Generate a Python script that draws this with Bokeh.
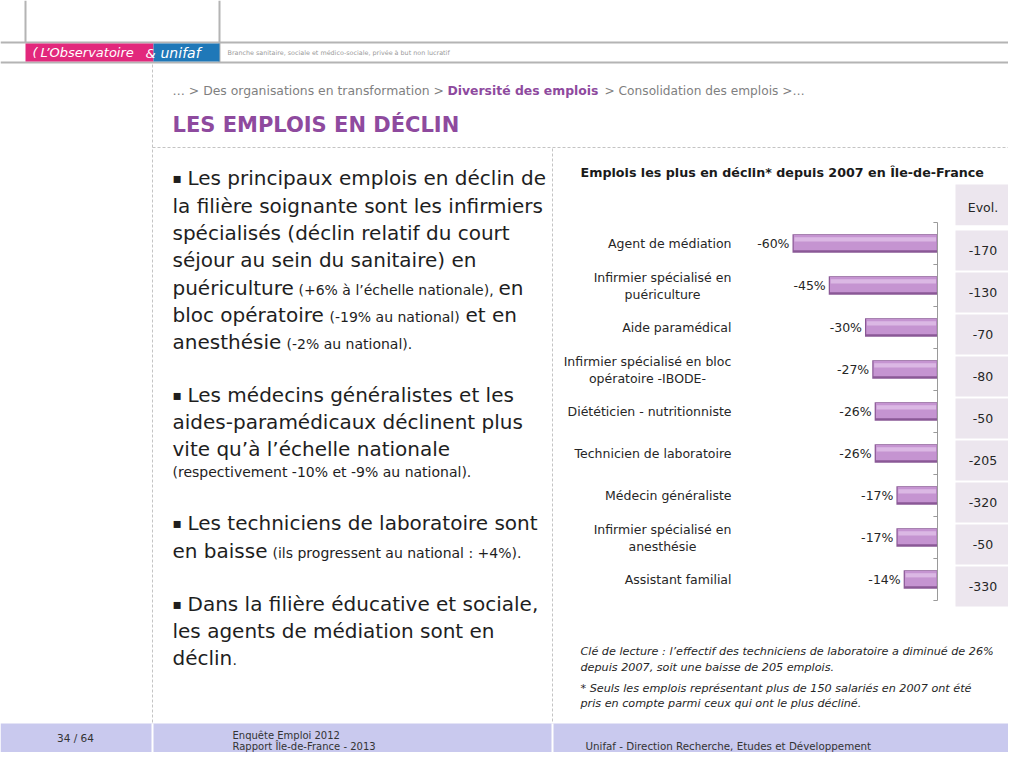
from bokeh.plotting import figure
from bokeh.models import Range1d, ColumnDataSource
from bokeh.core.properties import value
from bokeh.transform import dodge
from bokeh.embed import file_html
from bokeh.resources import INLINE

# ---------------- data ----------------
categories = [
    "Agent de médiation",
    "Infirmier spécialisé en\npuériculture",
    "Aide paramédical",
    "Infirmier spécialisé en bloc\nopératoire -IBODE-",
    "Diététicien - nutritionniste",
    "Technicien de laboratoire",
    "Médecin généraliste",
    "Infirmier spécialisé en\nanesthésie",
    "Assistant familial",
]
evolution_pct = [-60, -45, -30, -27, -26, -26, -17, -17, -14]
evolution_jobs = [-170, -130, -70, -80, -50, -205, -320, -50, -330]
pct_labels = [f"{v}%" for v in evolution_pct]
jobs_labels = [str(v) for v in evolution_jobs]

# ---------------- layout constants ----------------
W, H = 1008, 752
X0, X1 = 0, W            # slide coordinates covered by the frame
Y0, Y1 = 0, H
ZERO_PX, PX_PER_PCT = 937.0, 2.4167
ROW0_PX, ROW_PX = 243.0, 42.0
LABEL_RIGHT = 731
two_line_center = [None, 662, None, 647, None, None, None, 662, None]

FONT = "DejaVu Sans"
TXT = "#1e1e1e"
PURPLE = "#8e4a9e"

p = figure(width=W, height=H, x_range=Range1d(X0, X1), y_range=Range1d(Y1, Y0),
           output_backend="svg", toolbar_location=None, tools="",
           x_axis_location=None, y_axis_location=None, min_border=0,
           outline_line_color=None, background_fill_color="white",
           border_fill_color="white")
p.grid.visible = False

# extra ranges for the bar chart (percent on x, row index on y)
p.extra_x_ranges = {"pct": Range1d((X0 - ZERO_PX) / PX_PER_PCT, (X1 - ZERO_PX) / PX_PER_PCT)}
p.extra_y_ranges = {"idx": Range1d((Y1 - ROW0_PX) / ROW_PX, (Y0 - ROW0_PX) / ROW_PX)}


def txt(x, y, s, size, color=TXT, style="normal", align="left", baseline="middle", font=FONT):
    p.text(x=[x], y=[y], text=[s], text_font=value(font), text_font_size=f"{size}px",
           text_color=color, text_font_style=style, text_align=align, text_baseline=baseline)


# ---------------- header ----------------
p.segment(x0=[0, 0], y0=[42, 62], x1=[1024, 1024], y1=[42, 62], line_color="#b4b4b4", line_width=2)
p.segment(x0=[25, 219], y0=[0, 0], x1=[25, 219], y1=[42, 62], line_color="#b4b4b4", line_width=2)
p.quad(left=[25], right=[153], top=[43], bottom=[61], fill_color="#e2287c", line_color=None)
p.quad(left=[153], right=[219], top=[43], bottom=[61], fill_color="#1f78b8", line_color=None)
txt(32, 52, "(", 13, color="white", style="italic")
txt(40, 52, "L’Observatoire", 13, color="white", style="italic")
txt(145, 53, "&", 13, color="white", style="italic")
txt(160, 52, "unifaf", 14, color="white", style="italic")
txt(227, 52, "Branche sanitaire, sociale et médico-sociale, privée à but non lucratif", 6.4, color="#9a9a9a")

# dashed frame lines
p.line([152, 152], [64, 722], line_color="#c4c4c4", line_dash="3 2", line_width=1)
p.line([552, 552], [148, 722], line_color="#c4c4c4", line_dash="3 2", line_width=1)
p.line([152, 1024], [147, 147], line_color="#c4c4c4", line_dash="3 2", line_width=1)

# breadcrumb and title
txt(172, 90, "… > Des organisations en transformation >", 12.4, color="#7f7f7f")
txt(447, 90, "Diversité des emplois", 12.4, color=PURPLE, style="bold")
txt(604, 90, "> Consolidation des emplois >…", 12.2, color="#7f7f7f")
txt(172, 124, "LES EMPLOIS EN DÉCLIN", 21, color=PURPLE, style="bold")

# ---------------- left text ----------------
B, S = 20, 14
DS = 2  # small runs sit slightly lower so baselines align
body = [
    (187, 177, "Les principaux emplois en déclin de", B),
    (172, 205, "la filière soignante sont les infirmiers", B),
    (172, 232, "spécialisés (déclin relatif du court", B),
    (172, 259, "séjour au sein du sanitaire) en", B),
    (172, 287, "puériculture", B),
    (298, 287 + DS, "(+6% à l’échelle nationale),", S),
    (498, 287, "en", B),
    (172, 314, "bloc opératoire", B),
    (329, 314 + DS, "(-19% au national)", S),
    (465, 314, "et en", B),
    (172, 341, "anesthésie", B),
    (286, 341 + DS, "(-2% au national).", S),
    (187, 394, "Les médecins généralistes et les", B),
    (172, 421, "aides-paramédicaux déclinent plus", B),
    (172, 448, "vite qu’à l’échelle nationale", B),
    (172, 471, "(respectivement -10% et -9% au national).", S),
    (187, 522, "Les techniciens de laboratoire sont", B),
    (172, 550, "en baisse", B),
    (272, 550 + DS, "(ils progressent au national : +4%).", S),
    (187, 603, "Dans la filière éducative et sociale,", B),
    (172, 630, "les agents de médiation sont en", B),
    (172, 657, "déclin", B),
    (232, 657 + DS, ".", S),
]
for x, y, s, size in body:
    txt(x, y, s, size)
for yb in [177, 394, 522, 603]:
    txt(172, yb, "▪", 14)

# ---------------- chart ----------------
txt(580, 172, "Emplois les plus en déclin* depuis 2007 en Île-de-France", 12.7, color="#1a1a1a", style="bold")

rows = list(range(len(categories)))
src = ColumnDataSource(dict(row=rows, pct=evolution_pct, plabel=pct_labels,
                            jobs=jobs_labels))

# evol table cells
p.rect(x=982.5, y=[-0.92], width=55, height=0.97, y_range_name="idx",
       fill_color="#ece6ee", line_color=None)
p.rect(x=982.5, y=dodge("row", 0.165), width=55, height=0.95, y_range_name="idx",
       source=src, fill_color="#ece6ee", line_color=None)
p.text(x=982.5, y=[-0.86], text=["Evol."], y_range_name="idx",
       text_font=value(FONT), text_font_size="12.5px", text_color="#262626",
       text_align="center", text_baseline="middle")
p.text(x=982.5, y=dodge("row", 0.17), text="jobs", source=src, y_range_name="idx",
       text_font=value(FONT), text_font_size="12.5px", text_color="#262626",
       text_align="center", text_baseline="middle")

# bars (bevelled look with layered bars)
p.hbar(y="row", left="pct", right=0, height=0.44, source=src,
       x_range_name="pct", y_range_name="idx", fill_color="#8a5896", line_color=None)
p.hbar(y=dodge("row", -0.02), left=dodge("pct", 0.5), right=-0.3, height=0.36, source=src,
       x_range_name="pct", y_range_name="idx", fill_color="#c594d1", line_color=None)
p.hbar(y=dodge("row", -0.1), left=dodge("pct", 0.8), right=-0.6, height=0.1, source=src,
       x_range_name="pct", y_range_name="idx", fill_color="#dbb8e4", line_color=None)

# axis line and ticks
p.segment(x0=[0], y0=[-0.5], x1=[0], y1=[len(categories) - 0.5],
          x_range_name="pct", y_range_name="idx", line_color="#9a9a9a", line_width=1)
ticks = [r - 0.5 for r in range(len(categories) + 1)]
p.segment(x0=[-1.7] * len(ticks), y0=ticks, x1=[0] * len(ticks), y1=ticks,
          x_range_name="pct", y_range_name="idx", line_color="#9a9a9a", line_width=1)

# value labels
p.text(x="pct", y="row", text="plabel", source=src, x_range_name="pct", y_range_name="idx",
       x_offset=-3, text_font=value(FONT), text_font_size="12.5px", text_color="#262626",
       text_align="right", text_baseline="middle")

# category labels
for i, cat in enumerate(categories):
    lines = cat.split("\n")
    if len(lines) == 1:
        p.text(x=[LABEL_RIGHT], y=[i], text=[lines[0]], y_range_name="idx",
               text_font=value(FONT), text_font_size="12.5px", text_color="#262626",
               text_align="right", text_baseline="middle")
    else:
        cx = two_line_center[i]
        dy = 8.5 / ROW_PX
        p.text(x=[cx, cx], y=[i - dy, i + dy], text=lines, y_range_name="idx",
               text_font=value(FONT), text_font_size="12.5px", text_color="#262626",
               text_align="center", text_baseline="middle")

# notes
notes = [
    (651, "Clé de lecture : l’effectif des techniciens de laboratoire a diminué de 26%"),
    (667, "depuis 2007, soit  une baisse de 205 emplois."),
    (688, "* Seuls les emplois représentant plus de 150 salariés en 2007 ont été"),
    (703, "pris en compte parmi ceux qui ont le plus décliné."),
]
for y, s in notes:
    txt(580, y, s, 11.2, color="#262626", style="italic")

# ---------------- footer ----------------
p.quad(left=[0], right=[1024], top=[723], bottom=[770], fill_color="#c9c9ee", line_color=None)
p.segment(x0=[152, 552], y0=[723, 723], x1=[152, 552], y1=[770, 770], line_color="white", line_width=2)
txt(75, 737, "34 / 64", 10.5, color="#333333", align="center")
txt(232, 735, "Enquête Emploi 2012", 10, color="#333333")
txt(232, 746, "Rapport Île-de-France - 2013", 10, color="#333333")
txt(585, 745, "Unifaf - Direction Recherche, Etudes et Développement", 10.3, color="#333333")

open("out.html", "w").write(file_html(p, INLINE))
